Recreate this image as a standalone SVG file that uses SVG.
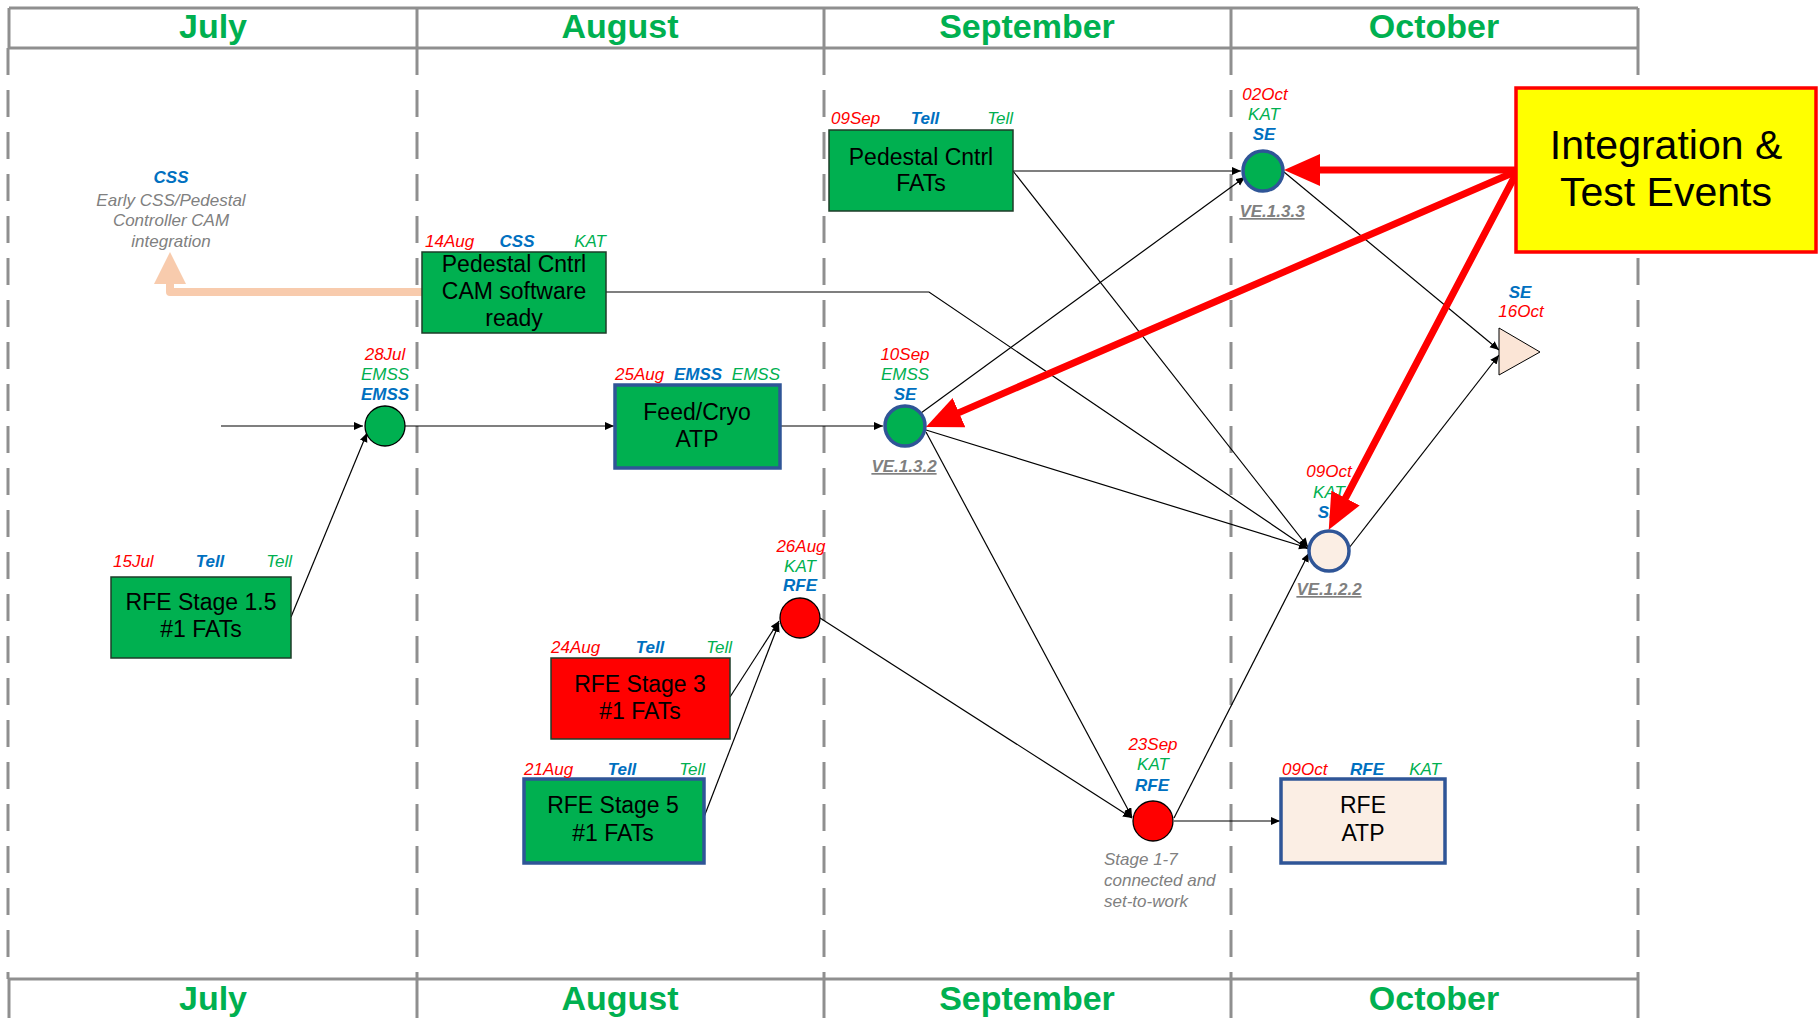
<svg xmlns="http://www.w3.org/2000/svg" width="1819" height="1018" viewBox="0 0 1819 1018">
<style>
text{font-family:"Liberation Sans",Arial,sans-serif}
.month{font-size:34px;font-weight:bold;fill:#00b050;text-anchor:middle}
.frame{stroke:#8f8f8f;stroke-width:3;fill:none}
.dash{stroke:#8f8f8f;stroke-width:3;fill:none;stroke-dasharray:27 15}
.lbl{font-size:17px;font-style:italic}
.d{fill:#ff0000}
.b{fill:#0070c0;font-weight:bold}
.g{fill:#00b050}
.note{font-size:17px;font-style:italic;fill:#808080}
.ve{font-size:17px;font-style:italic;font-weight:bold;fill:#808080;text-decoration:underline;text-anchor:middle}
.box{stroke:#1e3d28;stroke-width:1.5}
.boxb{stroke:#2f5597;stroke-width:3.5}
.bt{font-size:23px;fill:#000;text-anchor:middle}
.grn{fill:#00b050}
.red{fill:#ff0000}
.pch{fill:#fbeee4}
</style>
<defs>
<marker id="ah" markerUnits="userSpaceOnUse" markerWidth="10" markerHeight="9" refX="9" refY="4" orient="auto">
<path d="M0,0 L9,4 L0,8 z" fill="#000"/>
</marker>
<marker id="rh" markerUnits="userSpaceOnUse" markerWidth="38" markerHeight="34" refX="0" refY="16" orient="auto">
<path d="M0,0 L36,16 L0,32 z" fill="#ff0000"/>
</marker>
</defs>
<rect width="1819" height="1018" fill="#fff"/>

<!-- month grid -->
<g id="grid">
<path class="frame" d="M9,8 H1638 M9,48 H1638 M9,8 V48 M417,8 V48 M824,8 V48 M1231,8 V48 M1638,8 V48"/>
<path class="dash" d="M8,48 V979 M417,48 V979 M824,48 V979 M1231,48 V979 M1638,48 V979"/>
<path class="frame" d="M9,979 H1638 M9,979 V1018 M417,979 V1018 M824,979 V1018 M1231,979 V1018 M1638,979 V1018"/>
<text class="month" x="213" y="38">July</text>
<text class="month" x="620" y="38">August</text>
<text class="month" x="1027" y="38">September</text>
<text class="month" x="1434" y="38">October</text>
<text class="month" x="213" y="1010">July</text>
<text class="month" x="620" y="1010">August</text>
<text class="month" x="1027" y="1010">September</text>
<text class="month" x="1434" y="1010">October</text>
</g>

<!-- dependency links -->
<g id="connectors" fill="none" stroke="#000" stroke-width="1.2" marker-end="url(#ah)">
<line x1="221" y1="426" x2="363" y2="426"/>
<line x1="291" y1="617" x2="367" y2="433"/>
<line x1="405" y1="426" x2="614" y2="426"/>
<line x1="780" y1="426" x2="883" y2="426"/>
<line x1="1013" y1="171" x2="1241" y2="171"/>
<line x1="1013" y1="171" x2="1308" y2="547"/>
<polyline points="606,292 929,292 1308,549"/>
<line x1="921" y1="413" x2="1245" y2="177"/>
<line x1="926" y1="430" x2="1308" y2="548"/>
<line x1="926" y1="432" x2="1132" y2="817"/>
<line x1="820" y1="618" x2="1132" y2="818"/>
<line x1="1174" y1="818" x2="1309" y2="553"/>
<line x1="1349" y1="548" x2="1499" y2="355"/>
<line x1="1284" y1="172" x2="1499" y2="350"/>
<line x1="730" y1="697" x2="779" y2="621"/>
<line x1="704" y1="817" x2="779" y2="623"/>
<line x1="1174" y1="821" x2="1280" y2="821"/>
</g>

<!-- CAM software feeds the early integration -->
<g id="cam-integration">
<path d="M422,292 H170 V282" fill="none" stroke="#f8cbad" stroke-width="8" stroke-linecap="round" stroke-linejoin="round"/>
<path d="M170,252 L186,284 L154,284 z" fill="#f8cbad"/>
<text class="lbl b" x="171" y="183" text-anchor="middle">CSS</text>
<text class="note" text-anchor="middle"><tspan x="171" y="206">Early CSS/Pedestal</tspan><tspan x="171" y="226">Controller CAM</tspan><tspan x="171" y="247">integration</tspan></text>
</g>

<g id="ped-fats">
<rect class="box grn" x="829" y="130" width="184" height="81"/>
<text class="bt"><tspan x="921" y="165">Pedestal Cntrl</tspan><tspan x="921" y="191">FATs</tspan></text>
<text class="lbl d" x="831" y="124">09Sep</text>
<text class="lbl b" x="925" y="124" text-anchor="middle">Tell</text>
<text class="lbl g" x="1013" y="124" text-anchor="end">Tell</text>
</g>

<g id="ped-cam">
<rect class="box grn" x="422" y="252" width="184" height="81"/>
<text class="bt"><tspan x="514" y="272">Pedestal Cntrl</tspan><tspan x="514" y="299">CAM software</tspan><tspan x="514" y="326">ready</tspan></text>
<text class="lbl d" x="425" y="247">14Aug</text>
<text class="lbl b" x="517" y="247" text-anchor="middle">CSS</text>
<text class="lbl g" x="606" y="247" text-anchor="end">KAT</text>
</g>

<g id="ms-28jul">
<circle cx="385" cy="426" r="20" class="grn" stroke="#000" stroke-width="1.3"/>
<text class="lbl d" x="385" y="360" text-anchor="middle">28Jul</text>
<text class="lbl g" x="385" y="380" text-anchor="middle">EMSS</text>
<text class="lbl b" x="385" y="400" text-anchor="middle">EMSS</text>
</g>

<g id="feed-cryo">
<rect class="boxb grn" x="615" y="385" width="165" height="83"/>
<text class="bt"><tspan x="697" y="420">Feed/Cryo</tspan><tspan x="697" y="447">ATP</tspan></text>
<text class="lbl d" x="615" y="380">25Aug</text>
<text class="lbl b" x="698" y="380" text-anchor="middle">EMSS</text>
<text class="lbl g" x="780" y="380" text-anchor="end">EMSS</text>
</g>

<g id="ms-10sep">
<circle cx="905" cy="426" r="20" class="grn" stroke="#2f5597" stroke-width="3.5"/>
<text class="lbl d" x="905" y="360" text-anchor="middle">10Sep</text>
<text class="lbl g" x="905" y="380" text-anchor="middle">EMSS</text>
<text class="lbl b" x="905" y="400" text-anchor="middle">SE</text>
<text class="ve" x="904" y="472">VE.1.3.2</text>
</g>

<g id="ms-02oct">
<circle cx="1263" cy="171" r="20" class="grn" stroke="#2f5597" stroke-width="3.5"/>
<text class="lbl d" x="1265" y="100" text-anchor="middle">02Oct</text>
<text class="lbl g" x="1264" y="120" text-anchor="middle">KAT</text>
<text class="lbl b" x="1264" y="140" text-anchor="middle">SE</text>
<text class="ve" x="1272" y="217">VE.1.3.3</text>
</g>

<g id="ms-16oct">
<path d="M1499,328 L1540,352 L1499,375 z" fill="#fbe5d6" stroke="#000" stroke-width="1"/>
<text class="lbl b" x="1520" y="298" text-anchor="middle">SE</text>
<text class="lbl d" x="1521" y="317" text-anchor="middle">16Oct</text>
</g>

<g id="ms-09oct">
<circle cx="1329" cy="551" r="20" class="pch" stroke="#2f5597" stroke-width="3.5"/>
<text class="lbl d" x="1329" y="477" text-anchor="middle">09Oct</text>
<text class="lbl g" x="1329" y="498" text-anchor="middle">KAT</text>
<text class="lbl b" x="1329" y="518" text-anchor="middle">SE</text>
<text class="ve" x="1329" y="595">VE.1.2.2</text>
</g>

<g id="ms-26aug">
<circle cx="800" cy="618" r="20" class="red" stroke="#000" stroke-width="1.3"/>
<text class="lbl d" x="801" y="552" text-anchor="middle">26Aug</text>
<text class="lbl g" x="800" y="572" text-anchor="middle">KAT</text>
<text class="lbl b" x="800" y="591" text-anchor="middle">RFE</text>
</g>

<g id="rfe-stage15">
<rect class="box grn" x="111" y="577" width="180" height="81"/>
<text class="bt"><tspan x="201" y="610">RFE Stage 1.5</tspan><tspan x="201" y="637">#1 FATs</tspan></text>
<text class="lbl d" x="113" y="567">15Jul</text>
<text class="lbl b" x="210" y="567" text-anchor="middle">Tell</text>
<text class="lbl g" x="292" y="567" text-anchor="end">Tell</text>
</g>

<g id="rfe-stage3">
<rect class="box red" x="551" y="658" width="179" height="81"/>
<text class="bt"><tspan x="640" y="692">RFE Stage 3</tspan><tspan x="640" y="719">#1 FATs</tspan></text>
<text class="lbl d" x="551" y="653">24Aug</text>
<text class="lbl b" x="650" y="653" text-anchor="middle">Tell</text>
<text class="lbl g" x="732" y="653" text-anchor="end">Tell</text>
</g>

<g id="rfe-stage5">
<rect class="boxb grn" x="524" y="779" width="180" height="84"/>
<text class="bt"><tspan x="613" y="813">RFE Stage 5</tspan><tspan x="613" y="841">#1 FATs</tspan></text>
<text class="lbl d" x="524" y="775">21Aug</text>
<text class="lbl b" x="622" y="775" text-anchor="middle">Tell</text>
<text class="lbl g" x="705" y="775" text-anchor="end">Tell</text>
</g>

<g id="ms-23sep">
<circle cx="1153" cy="821" r="20" class="red" stroke="#000" stroke-width="1.3"/>
<text class="lbl d" x="1153" y="750" text-anchor="middle">23Sep</text>
<text class="lbl g" x="1153" y="770" text-anchor="middle">KAT</text>
<text class="lbl b" x="1152" y="791" text-anchor="middle">RFE</text>
<text class="note"><tspan x="1104" y="865">Stage 1-7</tspan><tspan x="1104" y="886">connected and</tspan><tspan x="1104" y="907">set-to-work</tspan></text>
</g>

<g id="rfe-atp">
<rect class="boxb pch" x="1281" y="779" width="164" height="84"/>
<text class="bt"><tspan x="1363" y="813">RFE</tspan><tspan x="1363" y="841">ATP</tspan></text>
<text class="lbl d" x="1282" y="775">09Oct</text>
<text class="lbl b" x="1367" y="775" text-anchor="middle">RFE</text>
<text class="lbl g" x="1441" y="775" text-anchor="end">KAT</text>
</g>

<!-- callout pointing at the integration & test milestones -->
<g id="callout-arrows" fill="none" stroke="#ff0000" stroke-width="7" stroke-linecap="round" marker-end="url(#rh)">
<line x1="1517" y1="170" x2="1320" y2="170"/>
<line x1="1517" y1="171" x2="959" y2="412.6"/>
<line x1="1517" y1="172" x2="1345.5" y2="498"/>
</g>
<g id="integration-test-events">
<rect x="1516" y="88" width="300" height="164" fill="#ffff00" stroke="#ff0000" stroke-width="3.5"/>
<text font-size="41" text-anchor="middle" fill="#000"><tspan x="1666" y="159">Integration &amp;</tspan><tspan x="1666" y="206">Test Events</tspan></text>
</g>
</svg>
